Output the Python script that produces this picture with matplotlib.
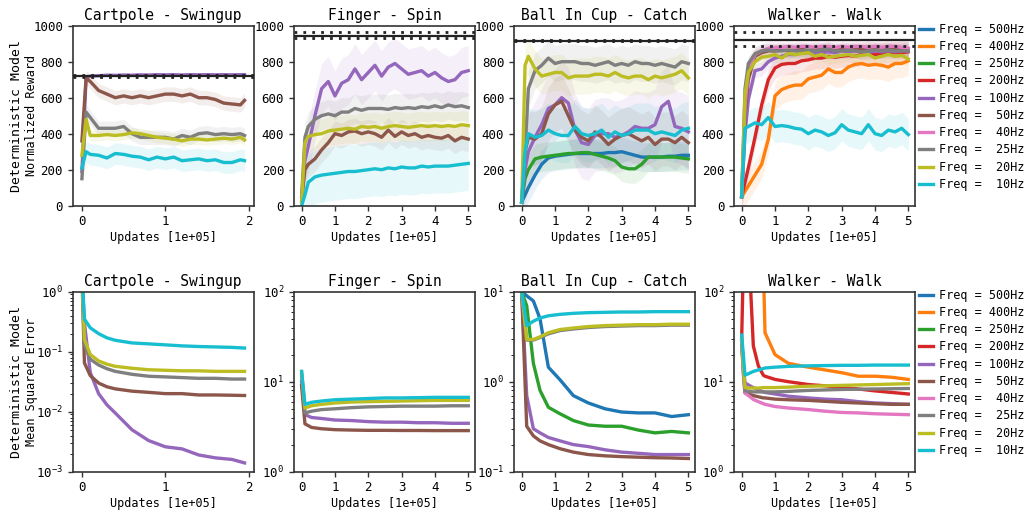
import numpy as np
import matplotlib.pyplot as plt

plt.rcParams['font.family'] = ['DejaVu Sans Mono', 'DejaVu Sans']

# frequencies shown in the legend
freqs = [500, 400, 250, 200, 100, 50, 40, 25, 20, 10]

# ---------------- top row: normalized reward ----------------
cp_x = [0, 0.05, 0.1, 0.2, 0.3, 0.4, 0.5, 0.6, 0.7, 0.8, 0.9, 1.0, 1.1, 1.2, 1.3, 1.4, 1.5, 1.6, 1.7, 1.8, 1.9, 1.95]
cp_r_100 = [190, 710, 720, 722, 725, 724, 726, 725, 727, 726, 728, 727, 728, 726, 728, 727, 728, 727, 728, 727, 728, 728]
cp_r_50 = [360, 710, 690, 640, 620, 600, 610, 600, 610, 600, 610, 620, 620, 610, 620, 600, 600, 590, 570, 565, 560, 585]
cp_r_25 = [150, 520, 490, 430, 430, 430, 440, 400, 380, 380, 380, 380, 370, 390, 380, 400, 405, 395, 400, 395, 400, 390]
cp_r_20 = [280, 480, 390, 390, 395, 390, 395, 405, 400, 390, 380, 375, 370, 360, 370, 370, 365, 370, 375, 370, 380, 365]
cp_r_10 = [210, 300, 285, 280, 265, 290, 285, 275, 270, 255, 270, 260, 270, 250, 255, 260, 250, 255, 240, 240, 255, 250]
cp_r_std = [10, 40, 40, 30, 60]

x5 = [0, 0.1, 0.2, 0.4, 0.6, 0.8, 1.0, 1.2, 1.4, 1.6, 1.8, 2.0, 2.2, 2.4, 2.6, 2.8, 3.0, 3.2, 3.4, 3.6, 3.8, 4.0, 4.2, 4.4, 4.6, 4.8, 5.0]

fs_r_100 = [50, 250, 330, 500, 650, 690, 610, 680, 700, 760, 700, 740, 780, 720, 770, 790, 760, 730, 740, 750, 720, 740, 710, 690, 700, 740, 750]
fs_r_50 = [30, 200, 230, 260, 310, 350, 400, 390, 410, 415, 400, 410, 400, 380, 420, 385, 410, 390, 400, 380, 390, 380, 375, 390, 360, 380, 370]
fs_r_25 = [50, 380, 440, 480, 500, 510, 500, 520, 520, 540, 530, 540, 540, 540, 535, 545, 540, 545, 540, 550, 545, 555, 545, 560, 550, 555, 545]
fs_r_20 = [20, 350, 385, 395, 400, 415, 420, 425, 430, 425, 440, 435, 440, 430, 440, 445, 440, 435, 440, 445, 440, 445, 440, 445, 440, 450, 445]
fs_r_10 = [0, 60, 130, 160, 170, 175, 180, 185, 190, 190, 195, 200, 205, 200, 210, 205, 215, 210, 210, 220, 215, 220, 220, 220, 225, 230, 235]
fs_r_std = [140, 70, 80, 80, 150]

bc_r_500 = [20, 60, 100, 170, 230, 265, 275, 280, 285, 290, 290, 290, 290, 290, 295, 295, 300, 290, 280, 270, 270, 270, 270, 275, 275, 280, 280]
bc_r_250 = [20, 150, 200, 260, 270, 275, 280, 285, 290, 290, 295, 295, 285, 275, 265, 250, 215, 205, 205, 230, 270, 270, 270, 270, 270, 265, 260]
bc_r_100 = [20, 200, 300, 380, 450, 540, 560, 600, 570, 420, 350, 340, 390, 400, 400, 380, 390, 410, 440, 430, 430, 450, 550, 580, 440, 430, 410]
bc_r_50 = [20, 300, 380, 370, 400, 510, 560, 580, 500, 420, 380, 360, 410, 380, 340, 370, 390, 400, 380, 360, 380, 340, 370, 370, 350, 380, 350]
bc_r_25 = [20, 300, 650, 750, 780, 820, 790, 800, 800, 800, 790, 790, 780, 790, 800, 780, 790, 780, 800, 790, 790, 780, 790, 780, 770, 800, 790]
bc_r_20 = [20, 780, 830, 760, 720, 730, 740, 740, 710, 720, 720, 720, 730, 730, 720, 740, 720, 710, 720, 720, 700, 720, 710, 720, 730, 750, 710]
bc_r_10 = [20, 300, 400, 380, 390, 420, 400, 390, 390, 440, 400, 390, 400, 420, 380, 410, 390, 400, 420, 420, 420, 400, 410, 400, 390, 420, 430]
bc_r_std = [80, 80, 200, 150, 100, 100, 150]

ww_r_400 = [50, 80, 110, 170, 230, 370, 610, 645, 660, 670, 670, 705, 715, 725, 760, 740, 740, 770, 785, 790, 780, 785, 780, 770, 790, 790, 805]
ww_r_200 = [50, 130, 210, 380, 560, 700, 765, 785, 790, 790, 805, 810, 820, 820, 830, 825, 830, 835, 830, 840, 845, 840, 845, 845, 850, 850, 855]
ww_r_100 = [50, 400, 590, 750, 760, 800, 820, 830, 840, 840, 850, 850, 845, 850, 855, 850, 860, 855, 860, 855, 850, 860, 855, 860, 855, 860, 860]
ww_r_50 = [50, 500, 700, 830, 850, 860, 860, 865, 860, 865, 870, 860, 870, 865, 870, 860, 870, 865, 870, 870, 875, 870, 870, 875, 870, 875, 870]
ww_r_40 = [50, 550, 750, 840, 860, 875, 880, 880, 885, 880, 885, 885, 880, 885, 885, 880, 885, 880, 885, 885, 880, 885, 880, 885, 885, 880, 875]
ww_r_25 = [50, 650, 790, 845, 860, 865, 860, 860, 865, 860, 860, 865, 860, 865, 870, 860, 860, 865, 860, 855, 860, 865, 860, 865, 860, 860, 860]
ww_r_20 = [50, 620, 740, 800, 825, 830, 840, 820, 845, 840, 845, 850, 830, 840, 825, 830, 835, 840, 830, 835, 840, 820, 830, 840, 830, 835, 815]
ww_r_10 = [50, 430, 440, 460, 450, 490, 440, 445, 440, 430, 425, 400, 420, 410, 390, 405, 450, 420, 410, 400, 450, 400, 390, 420, 410, 430, 395]
ww_r_std = [80, 60, 40, 40, 40, 40, 40, 90]

# reference (black) lines: mean, lower, upper
ref_mean = [722, 944, 917, 920]
ref_low = [714, 930, 915, 887]
ref_high = [728, 967, 919, 963]

# ---------------- bottom row: mean squared error ----------------
cp_ex = [0, 0.03, 0.1, 0.2, 0.3, 0.4, 0.6, 0.8, 1.0, 1.2, 1.4, 1.6, 1.8, 1.95]
cp_e_100 = [2, 0.3, 0.045, 0.02, 0.013, 0.0095, 0.005, 0.0033, 0.0026, 0.0024, 0.0019, 0.0017, 0.0016, 0.0014]
cp_e_50 = [2, 0.065, 0.04, 0.03, 0.026, 0.024, 0.022, 0.021, 0.02, 0.02, 0.019, 0.019, 0.0188, 0.0186]
cp_e_25 = [2, 0.13, 0.075, 0.06, 0.052, 0.047, 0.042, 0.039, 0.038, 0.037, 0.036, 0.036, 0.035, 0.035]
cp_e_20 = [2, 0.16, 0.09, 0.07, 0.062, 0.057, 0.053, 0.05, 0.049, 0.048, 0.048, 0.047, 0.047, 0.047]
cp_e_10 = [2, 0.35, 0.25, 0.2, 0.17, 0.155, 0.14, 0.135, 0.13, 0.125, 0.122, 0.12, 0.118, 0.115]

fs_ex = [0, 0.1, 0.3, 0.6, 1.0, 1.5, 2.0, 2.5, 3.0, 3.5, 4.0, 4.5, 5.0]
fs_e_100 = [10, 4.3, 4.0, 3.9, 3.75, 3.7, 3.6, 3.55, 3.55, 3.5, 3.5, 3.45, 3.45]
fs_e_50 = [9, 3.4, 3.1, 3.0, 2.93, 2.9, 2.88, 2.88, 2.87, 2.87, 2.86, 2.86, 2.86]
fs_e_25 = [12, 4.5, 4.7, 4.9, 5.0, 5.15, 5.25, 5.3, 5.35, 5.35, 5.35, 5.4, 5.4]
fs_e_20 = [13, 5.1, 5.4, 5.6, 5.8, 5.95, 6.0, 6.05, 6.1, 6.15, 6.2, 6.2, 6.2]
fs_e_10 = [13, 5.6, 5.9, 6.1, 6.3, 6.4, 6.5, 6.6, 6.6, 6.65, 6.7, 6.7, 6.7]

bc_ex = [0, 0.15, 0.35, 0.55, 0.8, 1.15, 1.55, 2.0, 2.5, 3.0, 3.5, 4.0, 4.5, 5.0]
bc_e_500 = [10, 9, 7.9, 5, 1.45, 1.05, 0.7, 0.58, 0.5, 0.46, 0.45, 0.45, 0.41, 0.43]
bc_e_250 = [10, 7, 1.6, 0.8, 0.52, 0.44, 0.37, 0.33, 0.32, 0.32, 0.29, 0.27, 0.28, 0.27]
bc_e_100 = [10, 0.7, 0.3, 0.27, 0.24, 0.22, 0.2, 0.19, 0.175, 0.165, 0.16, 0.155, 0.155, 0.155]
bc_e_50 = [10, 0.32, 0.25, 0.22, 0.2, 0.18, 0.165, 0.155, 0.15, 0.147, 0.145, 0.143, 0.142, 0.14]
bc_e_25 = [10, 2.9, 2.9, 3.1, 3.4, 3.7, 3.85, 4.0, 4.1, 4.15, 4.2, 4.2, 4.25, 4.25]
bc_e_20 = [10, 2.95, 2.95, 3.15, 3.5, 3.8, 3.95, 4.1, 4.2, 4.25, 4.3, 4.3, 4.35, 4.35]
bc_e_10 = [10, 4.2, 4.7, 5.1, 5.4, 5.6, 5.75, 5.85, 5.9, 5.95, 5.95, 6.0, 6.0, 6.0]

ww_ex = [0, 0.05, 0.1, 0.25, 0.35, 0.5, 0.65, 0.7, 1.0, 1.4, 2.0, 2.5, 3.0, 3.5, 4.0, 4.5, 5.0]
ww_e_400 = [200, 200, 200, 200, 200, 200, 200, 35, 20, 16, 14.5, 13.5, 12.6, 11.5, 11.5, 11.2, 10.6]
ww_e_200 = [30, 200, 200, 150, 25, 15, 11.8, 11.5, 10.6, 10, 9.3, 9.0, 8.6, 8.3, 7.9, 7.6, 7.3]
ww_e_100 = [30, 15, 9.7, 9.0, 8.6, 8.1, 7.7, 7.6, 7.3, 6.9, 6.6, 6.4, 6.3, 6.0, 5.8, 5.7, 5.6]
ww_e_50 = [28, 13, 7.5, 7.2, 7.0, 6.8, 6.6, 6.6, 6.4, 6.3, 6.2, 6.05, 5.9, 5.8, 5.7, 5.6, 5.6]
ww_e_40 = [28, 12, 7.5, 6.8, 6.35, 6.0, 5.7, 5.6, 5.3, 5.1, 4.9, 4.7, 4.55, 4.5, 4.4, 4.35, 4.3]
ww_e_25 = [28, 14, 7.9, 7.8, 7.7, 7.7, 7.7, 7.7, 7.7, 7.8, 8.0, 8.1, 8.2, 8.25, 8.3, 8.35, 8.4]
ww_e_20 = [30, 15, 8.6, 8.5, 8.5, 8.5, 8.6, 8.6, 8.6, 8.7, 8.9, 9.0, 9.1, 9.2, 9.3, 9.4, 9.5]
ww_e_10 = [33, 20, 11.8, 12.5, 13, 13.5, 14, 14.2, 14.5, 14.8, 15, 15.1, 15.2, 15.2, 15.3, 15.3, 15.3]

titles = ['Cartpole - Swingup', 'Finger - Spin', 'Ball In Cup - Catch', 'Walker - Walk']

colors = dict(zip(freqs, plt.get_cmap('tab10').colors))

reward_panels = [
    (cp_x, [100, 50, 25, 20, 10], [cp_r_100, cp_r_50, cp_r_25, cp_r_20, cp_r_10], cp_r_std),
    (x5, [100, 50, 25, 20, 10], [fs_r_100, fs_r_50, fs_r_25, fs_r_20, fs_r_10], fs_r_std),
    (x5, [500, 250, 100, 50, 25, 20, 10], [bc_r_500, bc_r_250, bc_r_100, bc_r_50, bc_r_25, bc_r_20, bc_r_10], bc_r_std),
    (x5, [400, 200, 100, 50, 40, 25, 20, 10], [ww_r_400, ww_r_200, ww_r_100, ww_r_50, ww_r_40, ww_r_25, ww_r_20, ww_r_10], ww_r_std),
]
error_panels = [
    (cp_ex, [100, 50, 25, 20, 10], [cp_e_100, cp_e_50, cp_e_25, cp_e_20, cp_e_10], (1e-3, 1e0)),
    (fs_ex, [100, 50, 25, 20, 10], [fs_e_100, fs_e_50, fs_e_25, fs_e_20, fs_e_10], (1e0, 1e2)),
    (bc_ex, [500, 250, 100, 50, 25, 20, 10], [bc_e_500, bc_e_250, bc_e_100, bc_e_50, bc_e_25, bc_e_20, bc_e_10], (1e-1, 1e1)),
    (ww_ex, [400, 200, 100, 50, 40, 25, 20, 10], [ww_e_400, ww_e_200, ww_e_100, ww_e_50, ww_e_40, ww_e_25, ww_e_20, ww_e_10], (1e0, 1e2)),
]

fig = plt.figure(figsize=(10.26, 5.15), dpi=100)
lefts = [0.0709, 0.2865, 0.5010, 0.7154]
w, h = 0.1764, 0.3495


def style_axes(ax, col, title):
    for s in ax.spines.values():
        s.set_color('#333333')
        s.set_linewidth(1.2)
    ax.tick_params(labelsize=9, color='#333333', length=3.5, width=1)
    ax.set_title(title, fontsize=10.5, pad=4)
    ax.set_xlabel('Updates [1e+05]', fontsize=8.5, labelpad=2)
    if col == 0:
        ax.set_xlim(-0.11, 2.06)
        ax.set_xticks([0, 1, 2])
    else:
        ax.set_xlim(-0.23, 5.2)
        ax.set_xticks(range(6))


def add_legend(ax):
    handles = [plt.Line2D([], [], color=colors[f], lw=2.4) for f in freqs]
    labels = ['Freq = %3dHz' % f for f in freqs]
    ax.legend(handles, labels, loc='upper left', bbox_to_anchor=(1.01, 1.03),
              frameon=False, fontsize=8.5, handlelength=1.2, handletextpad=0.5,
              labelspacing=0.36, borderaxespad=0, borderpad=0.2)


for col in range(4):
    # reward row
    ax = fig.add_axes([lefts[col], 0.6006, w, h])
    xs, fr, series, stds = reward_panels[col]
    for f, ys, sd in zip(fr, series, stds):
        ys = np.array(ys, dtype=float)
        ax.fill_between(xs, ys - sd, ys + sd, color=colors[f], alpha=0.1, lw=0)
        ax.plot(xs, ys, color=colors[f], lw=2.4)
    ax.axhline(ref_mean[col], color='#222222', lw=1.6, zorder=5)
    ax.axhline(ref_low[col], color='#222222', lw=2, ls=(0, (1, 2.2)), zorder=5)
    ax.axhline(ref_high[col], color='#222222', lw=2, ls=(0, (1, 2.2)), zorder=5)
    ax.set_ylim(0, 1000)
    ax.set_yticks(range(0, 1001, 200))
    style_axes(ax, col, titles[col])
    if col == 0:
        ax.text(-0.313, 0.5, 'Deterministic Model', rotation=90, fontsize=9.5,
                ha='center', va='center', transform=ax.transAxes)
        ax.text(-0.23, 0.5, 'Normalized Reward', rotation=90, fontsize=8.5,
                ha='center', va='center', transform=ax.transAxes)
    if col == 3:
        add_legend(ax)

    # error row
    ax = fig.add_axes([lefts[col], 0.0841, w, h])
    xs, fr, series, ylim = error_panels[col]
    for f, ys in zip(fr, series):
        ax.plot(xs, ys, color=colors[f], lw=2.4)
    ax.set_yscale('log')
    ax.set_ylim(*ylim)
    style_axes(ax, col, titles[col])
    if col == 0:
        ax.text(-0.313, 0.5, 'Deterministic Model', rotation=90, fontsize=9.5,
                ha='center', va='center', transform=ax.transAxes)
        ax.text(-0.23, 0.5, 'Mean Squared Error', rotation=90, fontsize=8.5,
                ha='center', va='center', transform=ax.transAxes)
    if col == 3:
        add_legend(ax)

fig.savefig('out.png', dpi=100)
